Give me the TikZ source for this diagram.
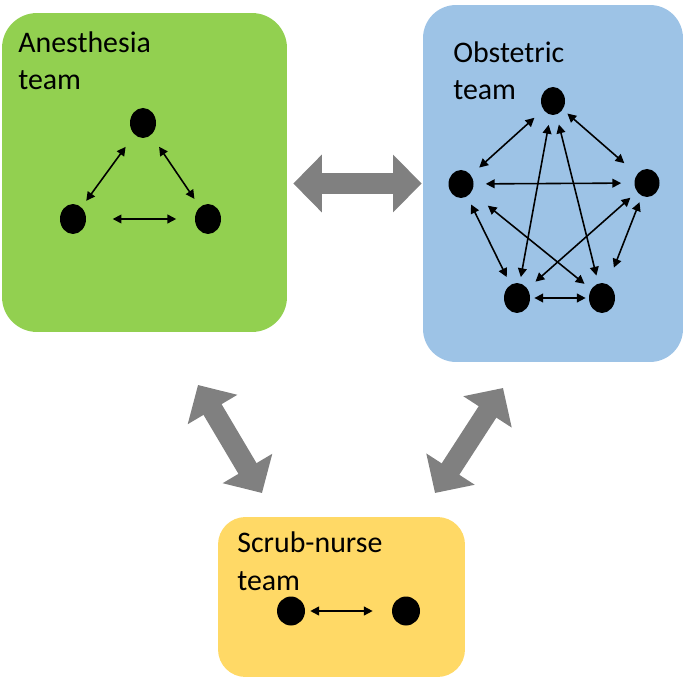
\documentclass[tikz,border=0pt]{standalone}
\usepackage{fontspec}
\setmainfont{Carlito}
\usepackage{tikz}
\usetikzlibrary{shapes.geometric,arrows.meta}
\definecolor{vert}{HTML}{92D050}
\definecolor{bleu}{HTML}{9DC3E6}
\definecolor{jaune}{HTML}{FFD966}
\definecolor{gris}{HTML}{808080}
\tikzstyle{equipe} = [rectangle, rounded corners=0.7cm, draw=none, inner sep=0]
\tikzstyle{titre} = [anchor=base west, align=left, inner sep=0, font=\fontsize{17}{21.5}\selectfont]
\tikzstyle{membre} = [ellipse, fill=black, minimum width=0.52cm, minimum height=0.6cm, inner sep=0]
\tikzstyle{lien} = [{Triangle[length=5pt,width=5pt]}-{Triangle[length=5pt,width=5pt]}, line width=0.9pt]
\tikzstyle{grosse} = [gris, line width=0.42cm, {Triangle[length=0.57cm,width=1.12cm]}-{Triangle[length=0.57cm,width=1.12cm]}]
\begin{document}
\begin{tikzpicture}[x=0.02cm, y=-0.02cm]
        \useasboundingbox (0,0) rectangle (685,678);

        \node (anesth) [equipe, fill=vert, minimum width=5.7cm, minimum height=6.38cm] at (144.5,172.5) {};
        \node (obst) [equipe, fill=bleu, minimum width=5.2cm, minimum height=7.14cm, rounded corners=0.66cm] at (553,183.5) {};
        \node (scrub) [equipe, fill=jaune, minimum width=4.94cm, minimum height=3.2cm, rounded corners=0.55cm] at (341.5,597) {};

        % base = last line
        \node (tA) [titre] at (18,90) {Anesthesia\\team};
        \node (tO) [titre] at (453,100) {Obstetric\\team};
        \node (tS) [titre] at (237,590) {Scrub-nurse\\team};

        % anesthesia team
        \node (A1) [membre] at (143,123) {};
        \node (A2) [membre] at (73,219) {};
        \node (A3) [membre] at (208,219) {};
        \draw[lien, shorten <=8.5pt, shorten >=4.5pt] (A1) -- (A2);
        \draw[lien, shorten <=8pt, shorten >=5.5pt] (A1) -- (A3);
        \draw[lien, shorten <=15pt, shorten >=10.5pt] (A2) -- (A3);

        % obstetric team
        \node (O1) [membre, minimum width=0.48cm, minimum height=0.56cm] at (553,101) {};
        \node (O2) [membre, minimum width=0.5cm, minimum height=0.56cm] at (461,184) {};
        \node (O3) [membre, minimum width=0.5cm, minimum height=0.56cm] at (647,183) {};
        \node (O4) [membre, minimum width=0.52cm, minimum height=0.6cm] at (517,298) {};
        \node (O5) [membre, minimum width=0.52cm, minimum height=0.6cm] at (602,298) {};
        \draw[lien, shorten <=6.8pt, shorten >=6.3pt] (O1) -- (O2);
        \draw[lien, shorten <=3.4pt, shorten >=9.5pt] (O1) -- (O3);
        \draw[lien, shorten <=6.8pt, shorten >=7.4pt] (O2) -- (O3);
        \draw[lien, shorten <=5pt, shorten >=4.8pt] (O2) -- (O4);
        \draw[lien, shorten <=3.7pt, shorten >=10pt] (O3) -- (O5);
        \draw[lien, shorten <=5.7pt, shorten >=3.4pt] (O1) -- (O4);
        \draw[lien, shorten <=5.7pt, shorten >=4.5pt] (O1) -- (O5);
        \draw[lien, shorten <=12pt, shorten >=4.8pt] (O2) -- (O5);
        \draw[lien, shorten <=5pt, shorten >=6pt] (O3) -- (O4);
        \draw[lien, shorten <=2.3pt, shorten >=1.7pt] (O4) -- (O5);

        % scrub-nurse team
        \node (S1) [membre, minimum width=0.56cm, minimum height=0.58cm] at (291,611) {};
        \node (S2) [membre, minimum width=0.56cm, minimum height=0.58cm] at (406,611) {};
        \draw[lien, shorten <=2.8pt, shorten >=10.8pt] (S1) -- (S2);

        % entre les equipes
        \coordinate (gA) at (198,385);
        \coordinate (sA) at (262,493);
        \coordinate (gO) at (503,388);
        \coordinate (sO) at (435,493);
        \draw[grosse, shorten <=3.4pt, shorten >=0.6pt] (anesth.east |- obst.west) -- (obst.west);
        \draw[grosse] (gA) -- (sA);
        \draw[grosse] (gO) -- (sO);

    \end{tikzpicture}
\end{document}
